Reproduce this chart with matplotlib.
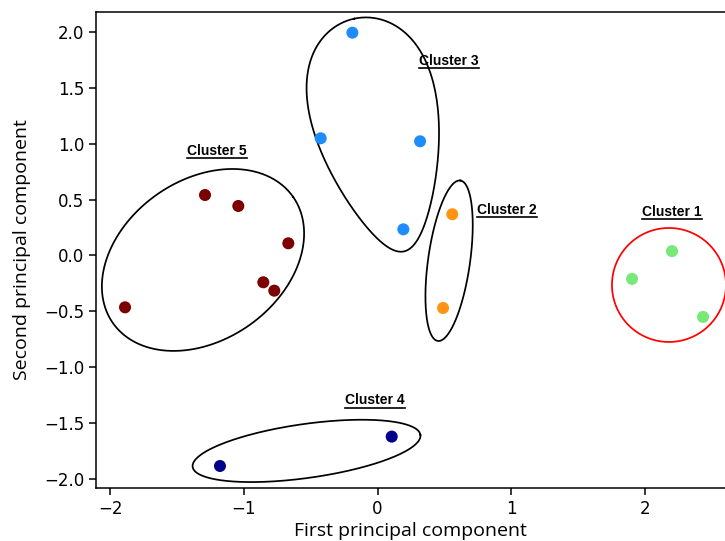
import numpy as np
import matplotlib
matplotlib.use("Agg")
import matplotlib.pyplot as plt
from matplotlib.lines import Line2D

# PCA projections of the points, one cluster at a time
c1_x = [2.202, 1.903, 2.434]
c1_y = [0.039, -0.210, -0.550]
c2_x = [0.559, 0.490]
c2_y = [0.369, -0.470]
c3_x = [-0.188, -0.425, 0.318, 0.193]
c3_y = [1.994, 1.049, 1.022, 0.234]
c4_x = [-1.178, 0.106]
c4_y = [-1.884, -1.621]
c5_x = [-1.290, -1.041, -0.667, -0.854, -0.772, -1.888]
c5_y = [0.541, 0.443, 0.109, -0.240, -0.315, -0.464]

cluster_names = ["Cluster 1", "Cluster 2", "Cluster 3", "Cluster 4", "Cluster 5"]
cluster_colors = ["#78e878", "#ff9414", "#1e8cff", "#00008b", "#7d0000"]

xticks = [-2, -1, 0, 1, 2]
yticks = [-2.0, -1.5, -1.0, -0.5, 0.0, 0.5, 1.0, 1.5, 2.0]

fig = plt.figure(figsize=(7.25, 5.41), dpi=100)
ax = fig.add_axes([96 / 725, 53 / 541, 1 - 96 / 725, 476 / 541])
ax.set_xlim(-2.105, 2.598)
ax.set_ylim(-2.081, 2.179)
ax.spines["right"].set_visible(False)
for sp in ax.spines.values():
    sp.set_linewidth(1.1)

xs = [c1_x, c2_x, c3_x, c4_x, c5_x]
ys = [c1_y, c2_y, c3_y, c4_y, c5_y]
for x, y, col in zip(xs, ys, cluster_colors):
    ax.scatter(x, y, s=75, color=col, edgecolors="none", zorder=3)

ax.set_xticks(xticks)
ax.set_yticks(yticks)
ax.tick_params(labelsize=12, length=5, width=1.1)
ax.set_xlabel("First principal component", fontsize=14, family="Open Sans", labelpad=3)
ax.set_ylabel("Second principal component", fontsize=14, family="Open Sans", labelpad=9)

# pixels per data unit, so the outlines keep their on-screen shape
sx = fig.get_figwidth() * fig.dpi * ax.get_position().width / np.ptp(ax.get_xlim())
sy = fig.get_figheight() * fig.dpi * ax.get_position().height / np.ptp(ax.get_ylim())


def outline(cx, cy, a, b, ang, k=0.0):
    # a, b in pixels, ang in screen degrees; k > 0 makes an egg
    t = np.linspace(0, 2 * np.pi, 400)
    u = a * np.cos(t)
    v = b * np.sin(t) * (1 + k * np.cos(t))
    th = np.radians(ang)
    dx = u * np.cos(th) - v * np.sin(th)
    dy = u * np.sin(th) + v * np.cos(th)
    return cx + dx / sx, cy + dy / sy


shapes = [
    (2.179, -0.264, 57, 57, 0, 0.0, "red"),
    (0.535, -0.047, 81, 21, 82, 0.0, "black"),
    (0.012, 1.078, 119, 61, 102, 0.33, "black"),
    (-0.531, -1.749, 115, 27, 8, 0.0, "black"),
    (-1.305, -0.040, 110, 80, 35, 0.0, "black"),
]
for cx, cy, a, b, ang, k, col in shapes:
    ox, oy = outline(cx, cy, a, b, ang, k)
    ax.plot(ox, oy, color=col, lw=1.25, zorder=2)

label_x = [2.204, 0.968, 0.535, -0.019, -1.200]
label_y = [0.356, 0.371, 1.705, -1.332, 0.902]
texts = []
for name, lx, ly in zip(cluster_names, label_x, label_y):
    texts.append(ax.text(lx, ly, name, ha="center", va="baseline", fontsize=10,
                         fontweight="bold", family="Liberation Sans"))

# underline the cluster labels
fig.canvas.draw()
r = fig.canvas.get_renderer()
inv = fig.transFigure.inverted()
for t in texts:
    bb = t.get_window_extent(r)
    base = ax.transData.transform(t.get_position())[1]
    p0 = inv.transform((bb.x0, base - 3.3))
    p1 = inv.transform((bb.x1, base - 3.3))
    fig.add_artist(Line2D([p0[0], p1[0]], [p0[1], p1[1]], color="black", lw=1.2))

fig.savefig("out.png", dpi=100)
